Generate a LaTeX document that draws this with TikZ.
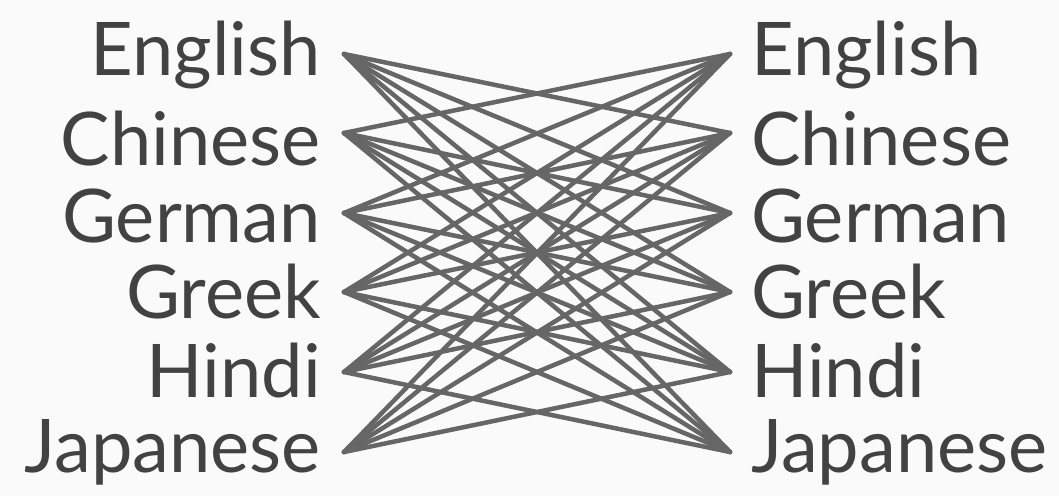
\documentclass[tikz,border=0pt]{standalone}
\usepackage{fontspec}
\setmainfont{Lato}
\definecolor{edgegray}{HTML}{666666}
\definecolor{textgray}{HTML}{424242}
\definecolor{bggray}{HTML}{FAFAFA}

\begin{document}
\begin{tikzpicture}[x=1pt, y=-1pt,
    lang/.style={font=\fontsize{74}{80}\selectfont, text=textgray, inner sep=0pt}]
  \fill[bggray] (0,0) rectangle (1059,496);
  \useasboundingbox (0,0) rectangle (1059,496);
  \draw
    (321,75) node[lang, anchor=base east] (English){English}
    (321,165) node[lang, anchor=base east] (Chinese){Chinese}
    (321,242) node[lang, anchor=base east] (German){German}
    (321,318) node[lang, anchor=base east] (Greek){Greek}
    (321,397) node[lang, anchor=base east] (Hindi){Hindi}
    (321,472) node[lang, anchor=base east] (Japanese){Japanese}
    (751,75) node[lang, anchor=base west] (English2){English}
    (751,165) node[lang, anchor=base west] (Chinese2){Chinese}
    (751,242) node[lang, anchor=base west] (German2){German}
    (751,318) node[lang, anchor=base west] (Greek2){Greek}
    (751,397) node[lang, anchor=base west] (Hindi2){Hindi}
    (751,472) node[lang, anchor=base west] (Japanese2){Japanese};
  \path
    (344,54) coordinate (EnglishL)
    (344,133) coordinate (ChineseL)
    (344,213) coordinate (GermanL)
    (344,292) coordinate (GreekL)
    (344,372) coordinate (HindiL)
    (344,452) coordinate (JapaneseL)
    (730,54) coordinate (EnglishR)
    (730,133) coordinate (ChineseR)
    (730,213) coordinate (GermanR)
    (730,292) coordinate (GreekR)
    (730,372) coordinate (HindiR)
    (730,452) coordinate (JapaneseR);
  \begin{scope}[-, edgegray, line width=4.5pt, line cap=round]
    \draw (EnglishL) to (ChineseR);
    \draw (EnglishL) to (GermanR);
    \draw (EnglishL) to (GreekR);
    \draw (EnglishL) to (HindiR);
    \draw (EnglishL) to (JapaneseR);
    \draw (ChineseL) to (EnglishR);
    \draw (ChineseL) to (GermanR);
    \draw (ChineseL) to (GreekR);
    \draw (ChineseL) to (HindiR);
    \draw (ChineseL) to (JapaneseR);
    \draw (GermanL) to (EnglishR);
    \draw (GermanL) to (ChineseR);
    \draw (GermanL) to (GreekR);
    \draw (GermanL) to (HindiR);
    \draw (GermanL) to (JapaneseR);
    \draw (GreekL) to (EnglishR);
    \draw (GreekL) to (ChineseR);
    \draw (GreekL) to (GermanR);
    \draw (GreekL) to (HindiR);
    \draw (GreekL) to (JapaneseR);
    \draw (HindiL) to (EnglishR);
    \draw (HindiL) to (ChineseR);
    \draw (HindiL) to (GermanR);
    \draw (HindiL) to (GreekR);
    \draw (HindiL) to (JapaneseR);
    \draw (JapaneseL) to (EnglishR);
    \draw (JapaneseL) to (ChineseR);
    \draw (JapaneseL) to (GermanR);
    \draw (JapaneseL) to (GreekR);
    \draw (JapaneseL) to (HindiR);
  \end{scope}
\end{tikzpicture}
\end{document}
